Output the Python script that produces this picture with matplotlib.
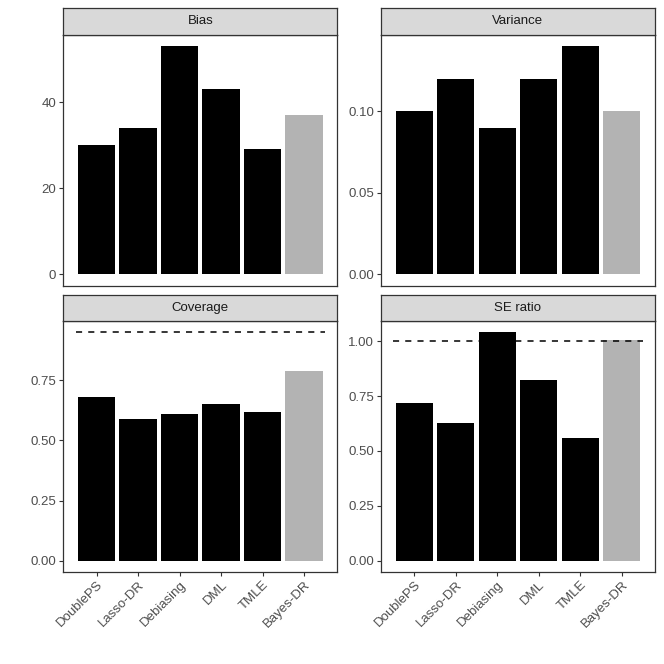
import matplotlib
matplotlib.use('Agg')
import matplotlib.pyplot as plt
import numpy as np

plt.rcParams['font.family'] = ['Liberation Sans', 'DejaVu Sans']

METHODS = ['DoublePS', 'Lasso-DR', 'Debiasing', 'DML', 'TMLE', 'Bayes-DR']

bias = [30, 34, 53, 43, 29, 37]
variance = [0.10, 0.12, 0.09, 0.12, 0.14, 0.10]
coverage = [0.68, 0.59, 0.61, 0.65, 0.62, 0.79]
se_ratio = [0.72, 0.625, 1.04, 0.825, 0.56, 1.005]

coverage_target = 0.95
se_target = 1.00

bias_ticks = [0, 20, 40]
variance_ticks = [0.00, 0.05, 0.10]
coverage_ticks = [0.00, 0.25, 0.50, 0.75]
se_ticks = [0.00, 0.25, 0.50, 0.75, 1.00]

BLACK = '#000000'
GREY = '#B3B3B3'
BORDER = '#333333'
STRIP = '#D9D9D9'
TICKTXT = '#4D4D4D'
FS = 9.5

W = H = 664
fig = plt.figure(figsize=(W / 100, H / 100), dpi=100)


def px_axes(left, top, right, bottom):
    return fig.add_axes([left / W, 1 - bottom / H, (right - left) / W, (bottom - top) / H])


def panel(left, right, top, bottom, strip_top, title, values, ticks, fmt,
          target=None, show_x=False):
    ax = px_axes(left, top, right, bottom)
    x = np.arange(len(METHODS))
    colors = [BLACK] * (len(METHODS) - 1) + [GREY]
    ax.bar(x, values, width=0.9, color=colors, edgecolor='none', zorder=2)
    ymax = max(values)
    if target is not None:
        # reference line spans the category range
        ax.plot([-0.5, len(METHODS) - 0.5], [target, target], color='black',
                linestyle=(0, (4, 4)), linewidth=1.1, zorder=3)
        ymax = max(ymax, target)
    pad = 0.05 * ymax
    ax.set_ylim(-pad, ymax + pad)
    ax.set_xlim(-0.8, len(METHODS) - 0.2)
    ax.set_yticks(ticks)
    ax.set_yticklabels([fmt.format(t) for t in ticks])
    ax.set_xticks(x)
    if show_x:
        ax.set_xticklabels(METHODS, rotation=45, ha='right', va='top',
                           rotation_mode='anchor')
    else:
        ax.set_xticklabels([])
    ax.tick_params(colors=BORDER, labelcolor=TICKTXT, labelsize=FS,
                   length=3, width=0.8, pad=2)
    if not show_x:
        ax.tick_params(axis='x', length=0)
    for s in ax.spines.values():
        s.set_color(BORDER)
        s.set_linewidth(0.9)

    st = px_axes(left, strip_top, right, top)
    st.set_facecolor(STRIP)
    st.set_xticks([])
    st.set_yticks([])
    for s in st.spines.values():
        s.set_color(BORDER)
        s.set_linewidth(0.9)
    st.text(0.5, 0.5, title, ha='center', va='center', fontsize=FS,
            color='#1A1A1A', transform=st.transAxes)
    return ax


L1, R1 = 63.3, 337.3
L2, R2 = 381, 655

panel(L1, R1, 34.7, 285.7, 8.3, 'Bias', bias, bias_ticks, '{:.0f}')
panel(L2, R2, 34.7, 285.7, 8.3, 'Variance', variance, variance_ticks, '{:.2f}')
panel(L1, R1, 321, 572, 294.7, 'Coverage', coverage, coverage_ticks, '{:.2f}',
      target=coverage_target, show_x=True)
panel(L2, R2, 321, 572, 294.7, 'SE ratio', se_ratio, se_ticks, '{:.2f}',
      target=se_target, show_x=True)

fig.savefig('out.png', dpi=100)
